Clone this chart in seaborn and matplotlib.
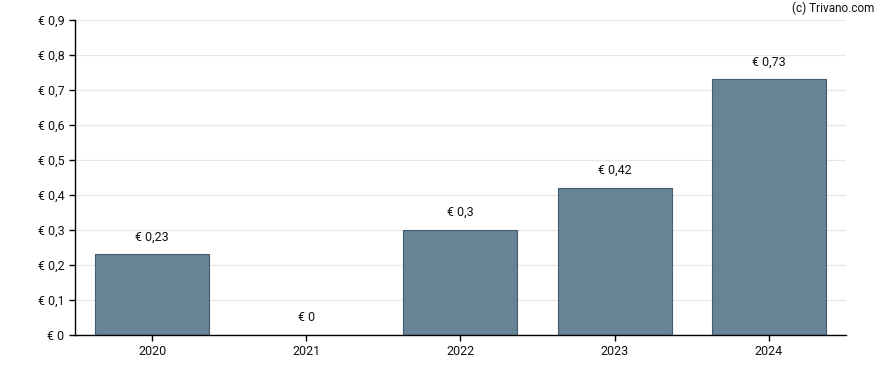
import numpy as np
import pandas as pd
import matplotlib.pyplot as plt
import seaborn as sns

years = ['2020', '2021', '2022', '2023', '2024']
dividends = [0.23, 0.0, 0.3, 0.42, 0.73]
bar_labels = ['€ 0,23', '€ 0', '€ 0,3', '€ 0,42', '€ 0,73']
yticks = [0.0, 0.1, 0.2, 0.3, 0.4, 0.5, 0.6, 0.7, 0.8, 0.9]
ytick_labels = ['€ 0', '€ 0,1', '€ 0,2', '€ 0,3', '€ 0,4', '€ 0,5', '€ 0,6', '€ 0,7', '€ 0,8', '€ 0,9']

sns.set_style('white')
plt.rcParams['font.family'] = ['Roboto', 'DejaVu Sans']

df = pd.DataFrame({'year': years, 'value': dividends})

fig = plt.figure(figsize=(8.88, 3.7), dpi=100)
ax = fig.add_axes([0.0845, 0.0946, 0.868, 0.8514])

sns.barplot(data=df, x='year', y='value', ax=ax, color='#5f7d91',
            width=0.74, saturation=1, edgecolor='#3e5668', linewidth=0.8, alpha=0.95)

for i, (v, lab) in enumerate(zip(dividends, bar_labels)):
    ax.annotate(lab, (i, v), xytext=(0, 8), textcoords='offset points',
                ha='center', va='bottom', fontsize=9, color='#111111')

ax.set_xlim(-0.5, 4.5)
ax.set_ylim(0, 0.9)
ax.set_yticks(yticks)
ax.set_yticklabels(ytick_labels)
ax.set_xlabel('')
ax.set_ylabel('')
ax.grid(axis='y', color='#e6e6e6', linewidth=0.8)
ax.set_axisbelow(True)
for s in ['top', 'right']:
    ax.spines[s].set_visible(False)
for s in ['left', 'bottom']:
    ax.spines[s].set_color('black')
    ax.spines[s].set_linewidth(1)
ax.tick_params(axis='both', which='both', length=4, width=1, color='black',
               labelsize=9, labelcolor='#111111', left=True, bottom=True)

fig.text(0.985, 0.978, '(c) Trivano.com', ha='right', va='center', fontsize=8.5, color='#111111')

fig.savefig('out.png', dpi=100)
